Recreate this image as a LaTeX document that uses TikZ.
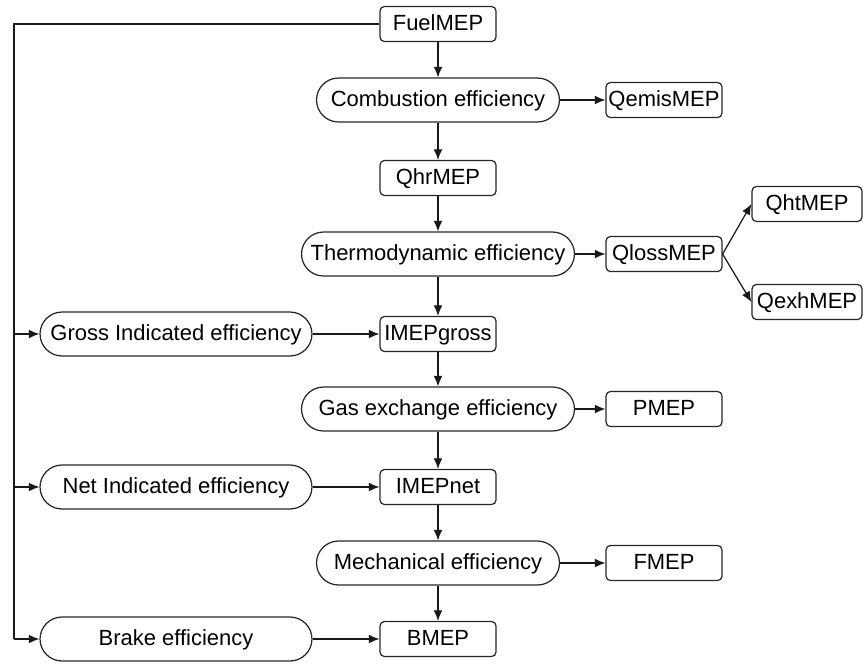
\documentclass[tikz,border=0pt]{standalone}
\usepackage{fontspec}
\setmainfont{Liberation Sans}
\usepackage{tikz}
\usetikzlibrary{arrows.meta,positioning,calc}

\begin{document}
\begin{tikzpicture}[x=0.02cm,y=-0.02cm,
  font=\fontsize{12.5}{15}\selectfont,
  mep/.style={draw=black!85,line width=0.7pt,rounded corners=2.5pt,
    minimum width=2.32cm,minimum height=0.7cm,inner sep=0pt,
    text height=0.72em,text depth=0em},
  eff/.style={draw=black!85,line width=0.7pt,rounded corners=0.44cm,
    minimum height=0.88cm,inner sep=0pt,
    text height=0.72em,text depth=0em},
  arr/.style={-{Latex[length=6pt,width=5pt]},line width=0.7pt,black!90}]

\useasboundingbox (0,0) rectangle (865,664);

%% main column
\node[mep] (fuel) at (438,24) {FuelMEP};
\node[eff,minimum width=4.86cm] (comb) at (438,100) {Combustion efficiency};
\node[mep] (qhr) at (438,178) {QhrMEP};
\node[eff,minimum width=5.46cm] (thermo) at (438,254) {Thermodynamic efficiency};
\node[mep] (imepg) at (438,334) {IMEPgross};
\node[eff,minimum width=5.46cm] (gasex) at (438,409) {Gas exchange efficiency};
\node[mep] (imepn) at (438,487) {IMEPnet};
\node[eff,minimum width=4.86cm] (mech) at (438,563) {Mechanical efficiency};
\node[mep] (bmep) at (438,639) {BMEP};

%% losses on the right
\node[mep] (qemis) at (664,100) {QemisMEP};
\node[mep] (qloss) at (664,254) {QlossMEP};
\node[mep,minimum width=2.2cm] (qht) at (807,204) {QhtMEP};
\node[mep,minimum width=2.2cm] (qexh) at (807,302) {QexhMEP};
\node[mep] (pmep) at (664,409) {PMEP};
\node[mep] (fmep) at (664,563) {FMEP};

%% overall efficiencies on the left
\node[eff,minimum width=5.44cm] (gross) at (176,334) {Gross Indicated efficiency};
\node[eff,minimum width=5.44cm] (net) at (176,487) {Net Indicated efficiency};
\node[eff,minimum width=5.44cm] (brake) at (176,639) {Brake efficiency};

%% down the column
\draw[arr] (fuel) -- (comb);
\draw[arr] (comb) -- (qhr);
\draw[arr] (qhr) -- (thermo);
\draw[arr] (thermo) -- (imepg);
\draw[arr] (imepg) -- (gasex);
\draw[arr] (gasex) -- (imepn);
\draw[arr] (imepn) -- (mech);
\draw[arr] (mech) -- (bmep);

%% side branches
\draw[arr] (comb) -- (qemis);
\draw[arr] (thermo) -- (qloss);
\draw[arr] (qloss.east) -- (qht.west);
\draw[arr] (qloss.east) -- (qexh.west);
\draw[arr] (gasex) -- (pmep);
\draw[arr] (mech) -- (fmep);
\draw[arr] (gross) -- (imepg);
\draw[arr] (net) -- (imepn);
\draw[arr] (brake) -- (bmep);

%% feed line from FuelMEP
\coordinate (top) at (14,24);
\draw[line width=0.7pt,black!90] (fuel.west) -- (top) -- (top |- brake);
\draw[arr] (top |- brake) -- (brake.west);
\draw[arr] (top |- gross) -- (gross.west);
\draw[arr] (top |- net) -- (net.west);
\end{tikzpicture}
\end{document}
